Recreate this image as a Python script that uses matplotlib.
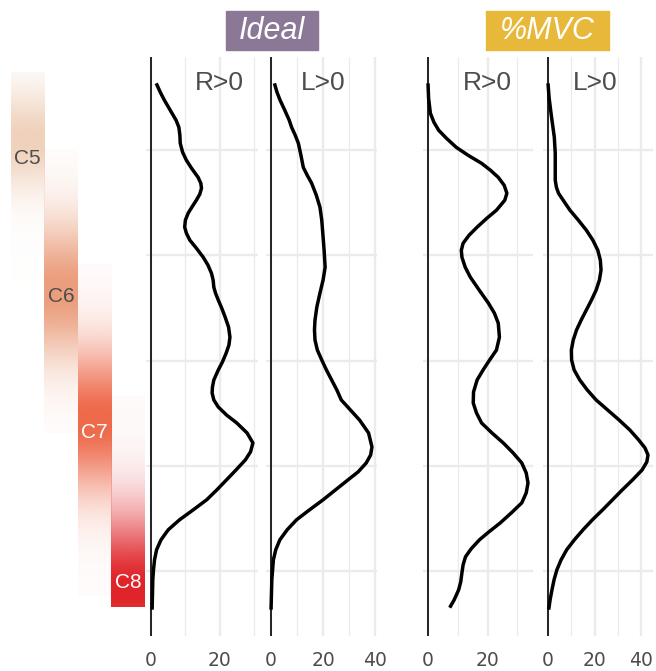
import numpy as np
import matplotlib.pyplot as plt
from matplotlib.patches import Rectangle
from matplotlib.colors import to_rgb

plt.rcParams['font.family'] = ['Liberation Sans', 'DejaVu Sans']

# position along the cord (grid every 10 units, top = rostral)
y_ideal_r = [3.63,4.49,5.25,6.20,7.15,7.81,8.57,9.33,10.19,10.95,11.71,12.57,13.13,13.61,14.18,14.75,15.41,15.99,16.65,17.31,
             17.89,18.55,19.31,20.17,20.93,21.69,22.35,23.02,23.59,24.25,25.01,25.87,26.82,27.77,28.53,29.29,30.14,30.90,31.85,32.52,
             33.09,33.75,34.42,35.18,35.94,36.89,37.84,38.69,39.45,40.40,41.35,42.30,43.25,44.20,45.15,46.10,47.05,48.00,48.96,49.91,
             50.85,52.28,53.70]
x_ideal_r = [1.5,2.7,3.9,5.6,7.3,8.1,8.4,8.5,9.2,10.3,11.8,13.7,14.5,14.7,14.2,13.2,11.9,10.8,10.0,9.8,
             10.3,11.3,13.2,15.2,16.6,17.6,18.1,18.3,18.8,19.6,20.6,21.6,22.6,23.0,22.7,21.9,20.8,19.6,18.3,17.9,
             17.8,18.3,19.6,22.0,25.0,28.0,29.7,29.0,27.5,24.8,22.0,19.2,16.2,12.3,8.3,5.0,2.9,1.6,1.0,0.7,
             0.5,0.4,0.3]

y_ideal_l = [3.63,4.49,5.25,6.20,7.15,7.81,8.57,9.33,10.48,11.62,12.37,13.13,14.27,15.41,16.65,17.89,19.50,21.12,22.35,23.59,
             24.92,26.15,27.10,28.05,29.00,29.95,30.90,31.85,32.80,33.75,34.70,35.65,36.89,38.22,38.98,39.74,40.59,41.35,42.30,43.25,
             44.20,45.15,46.10,47.05,48.00,48.96,50.85,53.70]
x_ideal_l = [1.3,2.3,3.5,5.3,7.0,7.9,9.3,10.5,11.5,12.4,13.9,15.6,17.4,18.8,19.5,19.9,20.4,20.8,20.0,18.8,
             17.6,16.9,16.7,16.9,17.8,19.5,21.3,23.3,25.3,27.0,30.5,34.0,37.5,38.8,38.3,36.6,33.5,29.6,24.8,20.0,
             14.8,9.8,6.2,3.4,1.8,0.9,0.3,0.0]

y_mvc_r = [3.63,5.06,6.48,7.34,8.10,8.86,9.72,10.48,11.24,11.90,12.57,13.33,14.09,14.75,15.70,16.46,17.31,18.08,18.84,19.50,
           20.17,21.12,22.06,23.30,24.54,25.49,26.44,27.77,29.00,29.95,30.90,31.85,32.99,34.04,34.99,35.94,36.89,37.84,38.79,39.74,
           40.69,41.64,42.59,43.54,44.49,45.44,46.29,47.05,47.91,48.67,49.43,50.19,51.05,51.81,52.76,53.51]
x_mvc_r = [0.0,0.2,0.8,2.0,3.6,6.2,9.5,13.5,18.0,21.0,23.6,25.6,26.5,25.8,23.0,19.8,16.5,13.8,11.8,11.2,
           11.4,12.5,14.2,17.2,20.3,22.3,23.6,24.0,23.0,20.7,18.5,16.5,15.3,15.2,16.3,18.0,21.5,25.3,28.6,31.5,
           33.0,33.6,33.0,31.5,28.0,24.3,20.5,17.3,14.5,12.6,11.8,11.4,11.0,10.3,8.8,7.3]

y_mvc_l = [3.63,5.06,6.48,7.62,8.76,10.29,11.90,12.85,13.52,14.09,14.75,15.70,16.65,17.60,18.55,19.50,20.45,21.40,22.35,23.30,
           24.25,25.20,26.15,27.10,28.05,29.00,29.95,30.90,31.85,32.80,33.75,34.70,35.65,36.60,37.55,38.31,38.98,39.64,40.40,41.35,
           42.30,43.25,44.20,45.15,46.10,47.05,48.00,48.96,49.91,50.85,51.81,52.76,53.70]
x_mvc_l = [0.0,0.5,1.3,2.0,2.7,3.1,3.1,3.1,3.6,4.5,6.5,9.4,13.0,16.4,19.2,21.3,22.4,22.7,22.0,20.6,
           18.6,16.4,14.2,12.2,10.8,10.0,10.1,11.2,13.6,16.8,20.6,25.5,30.4,35.0,38.8,41.5,42.8,42.3,40.3,36.2,
           31.8,27.6,23.4,19.0,15.0,11.3,8.0,5.6,3.8,2.6,1.7,0.9,0.3]

panel_labels = ['R>0', 'L>0', 'R>0', 'L>0']
panel_ticks = [[0, 20], [0, 20, 40], [0, 20], [0, 20, 40]]

# vertebral levels shown as shaded bars on the left
levels = ['C5', 'C6', 'C7', 'C8']
level_start = [2.59, 9.90, 20.83, 33.37]
level_end = [22.45, 36.89, 52.38, 53.42]
level_peak = [9.05, 23.3, 35.65, 51.8]
level_spread = [3.3, 4.6, 4.75, 5.2]
level_label_y = [10.76, 23.87, 36.89, 51.14]
level_colors = ['#f0d2bc', '#eb9e7d', '#ee6a4b', '#e0252a']
level_text = ['#4d4d4d', '#4d4d4d', 'white', 'white']

W, H = 656, 671
fig = plt.figure(figsize=(W / 100, H / 100), dpi=100)

def rect(x0, x1, y0=57, y1=636):
    return [x0 / W, 1 - y1 / H, (x1 - x0) / W, (y1 - y0) / H]

all_y = y_ideal_r + y_ideal_l + y_mvc_r + y_mvc_l
pad = 0.05 * (max(all_y) - min(all_y))
ylim = (max(all_y) + pad, min(all_y) - pad)

series = [(x_ideal_r, y_ideal_r), (x_ideal_l, y_ideal_l), (x_mvc_r, y_mvc_r), (x_mvc_l, y_mvc_l)]
spans = [(146, 258), (266, 377), (423, 533), (543, 653)]
grid_c = '#ebebeb'

for (xs, ys), (x0, x1), lab, ticks in zip(series, spans, panel_labels, panel_ticks):
    ax = fig.add_axes(rect(x0, x1))
    ax.plot(xs, ys, color='black', lw=2.5, solid_capstyle='butt', solid_joinstyle='round', zorder=3)
    ax.axvline(0, color='black', lw=1.2, zorder=2)
    lo, hi = min(0, min(xs)), max(xs)
    xp = 0.05 * (hi - lo)
    ax.set_xlim(lo - xp, hi + xp)
    ax.set_ylim(*ylim)
    ax.set_xticks(ticks)
    ax.set_xticks([10, 30], minor=True)
    ax.set_yticks([10, 20, 30, 40, 50])
    ax.set_yticklabels([])
    ax.grid(which='major', color=grid_c, lw=1.7, zorder=0)
    ax.grid(which='minor', axis='x', color=grid_c, lw=0.9, zorder=0)
    ax.tick_params(which='both', length=0, labelsize=13.5, labelcolor='#4d4d4d', pad=11)
    for t in ax.get_xticklabels():
        t.set_family('DejaVu Sans')
    for s in ax.spines.values():
        s.set_visible(False)
    ax.text(20, min(ys), lab, ha='center', va='center', fontsize=19, color='#4d4d4d', zorder=4)

# level bars
axl = fig.add_axes(rect(11, 145))
for i, lev in enumerate(levels):
    yy = np.linspace(level_start[i], level_end[i], 400)
    img = np.zeros((len(yy), 1, 4))
    img[:, 0, :3] = to_rgb(level_colors[i])
    img[:, 0, 3] = np.exp(-0.5 * ((yy - level_peak[i]) / level_spread[i]) ** 2)
    img[:, 0, 3] = np.clip(img[:, 0, 3] + 0.02, 0, 1)
    axl.imshow(img, extent=(i, i + 1, level_end[i], level_start[i]), origin='upper',
               aspect='auto', interpolation='bilinear')
    axl.text(i + 0.5, level_label_y[i], lev, ha='center', va='center', fontsize=15, color=level_text[i])
axl.set_xlim(0, 4)
axl.set_ylim(*ylim)
axl.axis('off')

# group headers
for label, x0, x1, col in [('Ideal', 226, 318, '#8b7896'), ('%MVC', 486, 609, '#e8b83a')]:
    fig.patches.append(Rectangle((x0 / W, 1 - 50 / H), (x1 - x0) / W, 39 / H,
                                 transform=fig.transFigure, color=col, zorder=1))
    fig.text((x0 + x1) / 2 / W, 1 - 31 / H, label, ha='center', va='center', fontsize=22,
             style='italic', color='white', zorder=2)

plt.savefig('out.png', dpi=100)
